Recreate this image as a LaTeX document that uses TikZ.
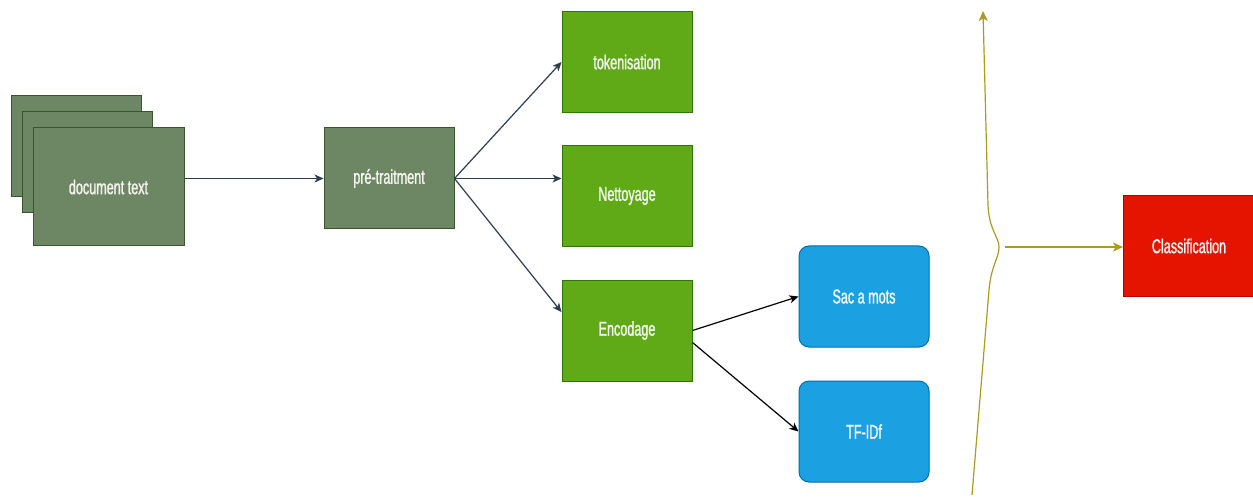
\documentclass[tikz,border=0pt]{standalone}
\usepackage{fontspec}
\setmainfont{Liberation Sans}[FakeStretch=0.63,FakeBold=1.3]
\usetikzlibrary{arrows.meta,calc}

\definecolor{oliveFill}{HTML}{6D8764}
\definecolor{oliveLine}{HTML}{3A5431}
\definecolor{leafFill}{HTML}{60A917}
\definecolor{leafLine}{HTML}{2D7600}
\definecolor{skyFill}{HTML}{1BA1E2}
\definecolor{skyLine}{HTML}{006EAF}
\definecolor{redFill}{HTML}{E51400}
\definecolor{redLine}{HTML}{B20000}
\definecolor{slate}{HTML}{2B3E50}
\definecolor{gold}{HTML}{B09A1E}
\definecolor{labelWhite}{HTML}{F4F4EE}

\tikzset{
  box/.style={rectangle, draw, line width=1pt, inner sep=0pt,
    minimum width=130pt, minimum height=101pt,
    text=labelWhite, font=\fontsize{20}{23}\selectfont},
  docbox/.style={box, fill=oliveFill, draw=oliveLine},
  stagebox/.style={box, fill=leafFill, draw=leafLine},
  methodbox/.style={box, fill=skyFill, draw=skyLine, rounded corners=10pt},
  resultbox/.style={box, fill=redFill, draw=redLine},
  flow/.style={draw=slate, line width=1.2pt, -{Stealth[length=9pt,width=8pt,inset=2.5pt]}},
  encflow/.style={draw=black, line width=1.2pt, -{Stealth[length=9pt,width=8pt,inset=2.5pt]}},
  goldflow/.style={draw=gold, line width=1.2pt, -{Stealth[length=10pt,width=9pt,inset=2.5pt]}},
}

\begin{document}
\begin{tikzpicture}[x=1pt,y=-1pt]
\useasboundingbox (0,0) rectangle (1253,497);

% stacked document pages
\node[docbox] (doc1) at (76,146) {};
\node[docbox] (doc2) at (87,162) {};
\node[docbox, minimum width=151pt, minimum height=118pt] (doc) at (108.5,187) {document text};

% pre-processing and its stages
\node[docbox] (pre) at (389,178.5) {pré-traitment};
\node[stagebox] (tok) at (627,62) {tokenisation};
\node[stagebox] (net) at (627,196) {Nettoyage};
\node[stagebox] (enc) at (627,330.5) {Encodage};

% encoding methods
\node[methodbox] (sac) at (864,296.5) {Sac a mots};
\node[methodbox] (tfidf) at (864,431.5) {TF-IDf};

% classifier
\node[resultbox, minimum width=131pt] (cls) at (1189,246) {Classification};

% connectors
\draw[flow] (doc.east |- pre.west) -- (pre.west);
\draw[flow] (pre.east) -- (tok.west);
\draw[flow] (pre.east) -- (pre.east -| net.west);
\draw[flow] (pre.east) -- ($(enc.north west)!0.32!(enc.south west)$);
\draw[encflow] (enc.east) -- (sac.west);
\draw[encflow] ($(enc.east)+(0,12)$) -- (tfidf.west);

% brace gathering the features
\coordinate (braceBottom) at (972,495);
\coordinate (braceTip) at (999,247);
\coordinate (braceTop) at (983,11);
\draw[goldflow] (braceBottom) -- (989,290)
  .. controls (991,266) and (999,258) .. (braceTip)
  .. controls (999,237) and (989,230) .. (988,205)
  -- (braceTop);
\draw[goldflow] ($(braceTip)+(6,0)$) -- (braceTip -| cls.west);
\end{tikzpicture}
\end{document}
